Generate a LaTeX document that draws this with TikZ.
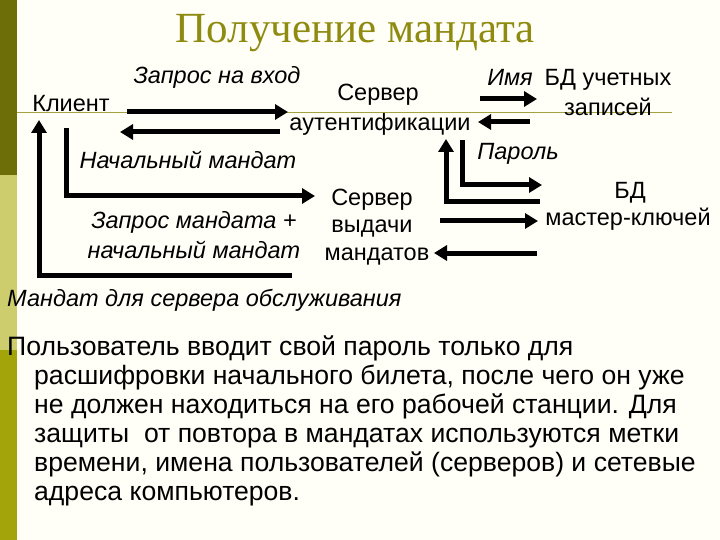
\documentclass[tikz,border=0pt]{standalone}
\usepackage{fontspec}
\setmainfont{Liberation Sans}
\newfontfamily\serifttl{Liberation Serif}
\usetikzlibrary{arrows.meta}
\definecolor{bgc}{HTML}{FFFFF8}
\definecolor{darkol}{HTML}{6E6E08}
\definecolor{lightol}{HTML}{CDCD6E}
\definecolor{midol}{HTML}{A3A30A}
\definecolor{ttl}{HTML}{8F8A10}
\begin{document}
\begin{tikzpicture}[x=1pt,y=-1pt,
  lbl/.style={inner sep=0pt,font=\fontsize{23.5}{25}\selectfont,align=center},
  ilbl/.style={lbl,font=\fontsize{23.5}{25}\selectfont\itshape},
  para/.style={inner sep=0pt,anchor=base west,font=\fontsize{26.6}{29}\selectfont},
  arr/.style={line width=5pt,-{Triangle[length=13pt,width=15pt]}}]
\useasboundingbox (0,0) rectangle (720,540);
\fill[bgc] (0,0) rectangle (720,540);
\fill[darkol] (0,0) rectangle (17,175);
\fill[lightol] (0,175) rectangle (17,350);
\fill[midol] (0,350) rectangle (17,540);
\draw[ttl!80!white,line width=1pt] (17,113) -- (672,113);
\node[inner sep=0pt,text=ttl,font=\serifttl\fontsize{43}{45}\selectfont] (title) at (355,33) {Получение мандата};
% labels
\node[ilbl] (zv) at (217,77) {Запрос на вход};
\node[lbl] (kl) at (71,104) {Клиент};
\node[lbl] (sa1) at (378,95) {Сервер};
\node[lbl] (sa2) at (380,124) {аутентификации};
\node[ilbl] (nm) at (188,160) {Начальный мандат};
\node[ilbl] (im) at (510,77) {Имя};
\node[lbl] (bd1) at (608,80) {БД учетных};
\node[lbl] (bd2) at (608,107) {записей};
\node[ilbl] (par) at (518,154) {Пароль};
\node[lbl] (sv1) at (372,200) {Сервер};
\node[lbl] (sv2) at (372,229) {выдачи};
\node[lbl] (sv3) at (377,257) {мандатов};
\node[lbl] (mk1) at (630,193) {БД};
\node[lbl] (mk2) at (628,219) {мастер-ключей};
\node[ilbl] (zm1) at (194,222) {Запрос мандата +};
\node[ilbl] (zm2) at (194,250) {начальный мандат};
\node[ilbl,anchor=west] (md) at (7,300) {Мандат для сервера обслуживания};
% paragraph
\node[para] (p1) at (7,355) {Пользователь вводит свой пароль только для};
\node[para] (p2) at (34,384) {расшифровки начального билета, после чего он уже};
\node[para] (p3) at (34,413) {не должен находиться на его рабочей станции. Для};
\node[para] (p4) at (34,442) {защиты\ \ от повтора в мандатах используются метки};
\node[para] (p5) at (34,471) {времени, имена пользователей (серверов) и сетевые};
\node[para] (p6) at (34,500) {адреса компьютеров.};
% connector ends
\coordinate (a1s) at (127,112); \coordinate (a1e) at (288,112);
\coordinate (a2s) at (280,132); \coordinate (a2e) at (120,132);
\coordinate (a3s) at (66,128); \coordinate (a3c) at (66,196); \coordinate (a3e) at (315,196);
\coordinate (a4s) at (292,275); \coordinate (a4c) at (39,275); \coordinate (a4e) at (39,120);
\coordinate (a5s) at (480,99); \coordinate (a5e) at (537,99);
\coordinate (a6s) at (530,122); \coordinate (a6e) at (478,122);
\coordinate (a7s) at (462,140); \coordinate (a7c) at (462,185); \coordinate (a7e) at (542,185);
\coordinate (a8s) at (540,202); \coordinate (a8c) at (446,202); \coordinate (a8e) at (446,139);
\coordinate (a9s) at (440,221); \coordinate (a9e) at (538,221);
\coordinate (a10s) at (537,253); \coordinate (a10e) at (434,253);
\draw[arr] (a1s) -- (a1e);
\draw[arr] (a2s) -- (a2e);
\draw[arr] (a3s) -- (a3c) -- (a3e);
\draw[arr] (a4s) -- (a4c) -- (a4e);
\draw[arr] (a5s) -- (a5e);
\draw[arr] (a6s) -- (a6e);
\draw[arr] (a7s) -- (a7c) -- (a7e);
\draw[arr] (a8s) -- (a8c) -- (a8e);
\draw[arr] (a9s) -- (a9e);
\draw[arr] (a10s) -- (a10e);
\end{tikzpicture}
\end{document}
